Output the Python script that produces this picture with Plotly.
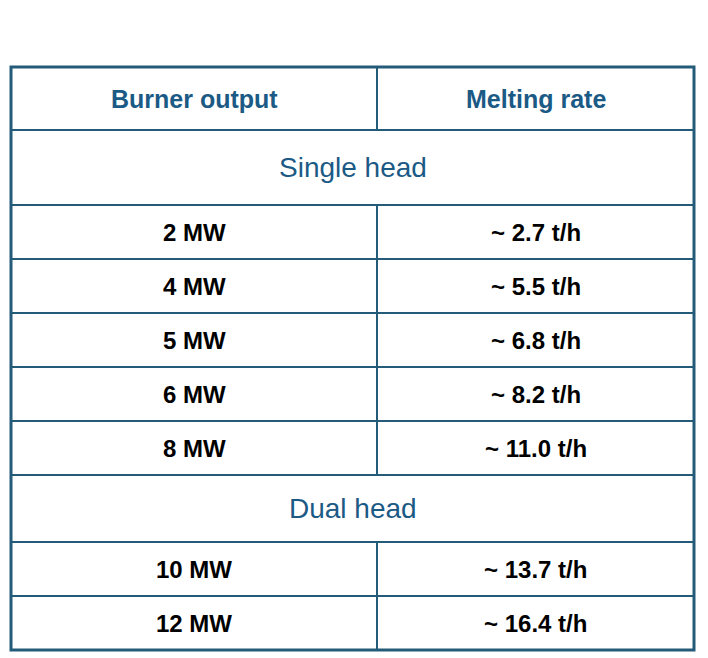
import plotly.graph_objects as go

# data
title = "BURNER SIZES AND MELTING RATES"
headers = ["Burner output", "Melting rate"]
sections = ["Single head", "Dual head"]
single_output = ["2 MW", "4 MW", "5 MW", "6 MW", "8 MW"]
single_rate = ["~ 2.7 t/h", "~ 5.5 t/h", "~ 6.8 t/h", "~ 8.2 t/h", "~ 11.0 t/h"]
dual_output = ["10 MW", "12 MW"]
dual_rate = ["~ 13.7 t/h", "~ 16.4 t/h"]

BLUE = "#1c5a86"
BORDER = "#245b78"
FONT = "Liberation Sans, Arial, sans-serif"

# layout in pixel units (page coordinates; body has an 8px margin)
left, mid, right, top = 11, 377, 694, 67
rows = [("head", headers, 63)]
rows.append(("sec", sections[0], 75))
for o, r in zip(single_output, single_rate):
    rows.append(("data", [o, r], 54))
rows.append(("sec", sections[1], 67))
for o, r in zip(dual_output, dual_rate):
    rows.append(("data", [o, r], 54))

fig = go.Figure()
shapes, annos = [], []
y = top
total = top + sum(r[2] for r in rows)
for kind, content, h in rows:
    yc = y + h / 2
    if kind == "sec":
        annos.append(dict(x=(left + right) / 2, y=yc, text=content,
                          font=dict(size=28, color=BLUE, family=FONT)))
    else:
        shapes.append(dict(type="line", x0=mid, x1=mid, y0=y, y1=y + h,
                           line=dict(color=BORDER, width=2)))
        color = BLUE if kind == "head" else "black"
        for txt, xc in zip(content, [(left + mid) / 2, (mid + right) / 2]):
            annos.append(dict(x=xc, y=yc, text="<b>" + txt + "</b>",
                              font=dict(size=25 if kind == "head" else 24,
                                        color=color, family=FONT)))
    y += h
    if y < total - 1:
        shapes.append(dict(type="line", x0=left, x1=right, y0=y, y1=y,
                           line=dict(color=BORDER, width=2)))
shapes.append(dict(type="rect", x0=left, x1=right, y0=top, y1=y,
                   line=dict(color=BORDER, width=3)))
for a in annos:
    a.update(xref="x", yref="y", showarrow=False)
annos.append(dict(x=7, y=20, xref="x", yref="y", showarrow=False,
                  xanchor="left", text="<b>" + title + "</b>",
                  font=dict(size=24, color=BLUE, family=FONT)))

fig.add_trace(go.Scatter(x=[100], y=[100], mode="markers", opacity=0,
                         hoverinfo="skip", showlegend=False))
fig.update_layout(width=700, height=650, margin=dict(l=0, r=0, t=0, b=0),
                  plot_bgcolor="white", paper_bgcolor="white",
                  shapes=shapes, annotations=annos,
                  xaxis=dict(range=[8, 708], visible=False, fixedrange=True),
                  yaxis=dict(range=[658, 8], visible=False, fixedrange=True))
fig.write_html("out.html")
